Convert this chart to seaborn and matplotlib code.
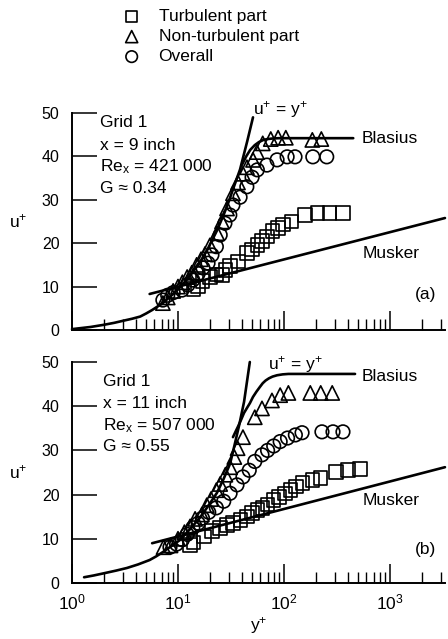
import numpy as np
import pandas as pd
import matplotlib
matplotlib.use("Agg")
import matplotlib.pyplot as plt
import matplotlib.ticker as mticker
import seaborn as sns

# ---------------- data ----------------
parts = ["Turbulent part", "Non-turbulent part", "Overall"]

# panel (a)
a_turb_y = [14, 15.5, 17, 20, 23, 26, 28, 31, 37, 45, 50, 56, 62, 69, 78, 88, 98, 118, 158, 208, 270, 360]
a_turb_u = [9.5, 10, 11.3, 12.2, 12.8, 12.7, 13.8, 14.8, 15.8, 17.7, 18.5, 19.6, 20.5, 21.5, 22.8, 23.5, 24.3, 25, 26.5, 27, 27, 27]
a_non_y = [7.2, 8, 9, 10, 11, 12.2, 13.5, 15, 16.5, 18, 20, 23.4, 26, 29, 33, 36.8, 41, 44.7, 51, 55.6, 63, 75, 88, 104, 185, 225]
a_non_u = [6.2, 7.5, 9, 10, 11, 12.2, 13.2, 15, 16.3, 17.5, 19.5, 22.3, 25, 28, 31.5, 34, 36, 37.5, 39.2, 41, 43, 44, 44.3, 44.3, 43.8, 44]
a_all_y = [7.2, 8, 9, 10.9, 12.4, 13.8, 15.5, 17.2, 19.2, 20.9, 23, 25, 27.7, 30.8, 33, 38.5, 44.6, 50, 56, 69, 86, 107, 127, 187, 253]
a_all_u = [6.9, 8, 8.6, 9.2, 10.4, 11.5, 13, 14.3, 15.4, 17.3, 19.2, 21.9, 24.6, 26.5, 28.8, 30.6, 33, 35.2, 36.9, 38, 39.2, 39.9, 39.9, 39.9, 39.9]

# panel (b)
b_turb_y = [13, 14, 17.5, 21, 25, 29, 33, 39, 45, 50, 56, 63, 70, 80, 90, 102, 115, 130, 150, 185, 220, 310, 400, 520]
b_turb_u = [8.6, 9.2, 10.5, 11.8, 12.5, 13.1, 13.6, 14.2, 15, 15.8, 16.5, 17, 17.8, 18.8, 19.5, 20.3, 21, 21.8, 22.6, 23.3, 23.8, 25.1, 25.6, 25.8]
b_non_y = [7.3, 8.5, 10, 11.5, 13, 14.5, 16.8, 18.7, 20.5, 23, 25, 28, 31, 34, 36.5, 41, 53, 62, 77, 92, 110, 177, 222, 285]
b_non_u = [8.1, 8.5, 10, 11.5, 12.8, 14.5, 15.5, 17.6, 19, 21, 22.4, 24.5, 26.2, 28.5, 30.5, 33, 37.5, 39.5, 41.3, 42.5, 43, 43, 43, 43]
b_all_y = [8.4, 9.7, 11, 12.2, 13.8, 15.5, 17, 19.5, 23, 27, 31, 36, 41, 47, 53, 62, 70, 80, 92, 108, 128, 148, 228, 290, 360]
b_all_u = [8.1, 8.8, 9.8, 11, 12.5, 13.5, 14.7, 16, 17, 18.5, 20.3, 22.2, 24, 25.5, 27.5, 29, 30, 31, 32, 32.8, 33.5, 34, 34.2, 34.2, 34.2]

# reference curves
a_lin_y = [1.0, 1.5, 2, 2.5, 3, 3.7, 4.4, 5.0, 5.7, 6.4, 7.2, 8, 9, 10.5, 12, 14, 16, 19, 23.4, 27, 30, 34, 38.5, 45, 51]
a_lin_u = [0.2, 0.7, 1.2, 1.65, 2.1, 2.6, 3.1, 3.8, 4.6, 5.4, 6.2, 7.2, 8.3, 9.9, 11.5, 13.6, 15.5, 18.6, 23, 26.6, 29.5, 33.3, 37, 43.5, 49]
a_bla_y = [40, 44, 48, 53, 58, 64, 70, 80, 90, 450]
a_bla_u = [38, 40, 41.5, 42.6, 43.3, 43.8, 44, 44.15, 44.2, 44.2]
a_mus_y = [5.4, 3300]
a_mus_u = [8.3, 25.8]

b_lin_y = [1.3, 1.6, 2, 2.6, 3.3, 4.2, 5.4, 6.2, 7.2, 8.6, 10.4, 13, 16, 19.5, 23.3, 27, 31, 34, 38, 42, 47.6]
b_lin_u = [1.3, 1.7, 2.2, 2.8, 3.4, 4.2, 5.2, 6.0, 7, 8.3, 9.7, 12.2, 14.7, 17.6, 20.4, 23.6, 27, 31, 36, 41, 50]
b_bla_y = [33, 35, 37, 39.5, 42, 45, 47.7, 51, 55, 59, 63, 67, 72, 78, 86, 97, 110, 468]
b_bla_u = [33, 34.3, 35.5, 37, 38.5, 39.7, 40.7, 42.1, 43.3, 44.3, 45.2, 45.8, 46.3, 46.7, 47, 47.2, 47.3, 47.3]
b_mus_y = [5.7, 3300]
b_mus_u = [9.0, 26.2]

a_info = ["Grid 1", "x = 9 inch", r"Re$_\mathregular{x}$ = 421 000", "G ≈ 0.34"]
b_info = ["Grid 1", "x = 11 inch", r"Re$_\mathregular{x}$ = 507 000", "G ≈ 0.55"]

# ---------------- style ----------------
sns.set_style("ticks")
plt.rcParams["font.family"] = ["Liberation Sans", "DejaVu Sans"]
plt.rcParams["mathtext.fontset"] = "custom"
plt.rcParams["mathtext.rm"] = "Liberation Sans"
plt.rcParams["mathtext.it"] = "Liberation Sans:italic"
plt.rcParams["mathtext.bf"] = "Liberation Sans:bold"
for k in ["text.color", "axes.labelcolor", "xtick.color", "ytick.color", "axes.edgecolor"]:
    plt.rcParams[k] = "black"

FS = 12.5
markers = {"Turbulent part": "s", "Non-turbulent part": "^", "Overall": "o"}

fig = plt.figure(figsize=(4.48, 6.39), dpi=100)
W = 448.0
H = 639.0
xmax = 3300.0
left = 72 / W
width = np.log10(xmax) * 106 / W
ax_a = fig.add_axes([left, (H - 330) / H, width, 217 / H])
ax_b = fig.add_axes([left, (H - 583) / H, width, 221 / H])


def panel(ax, ty, tu, ny, nu, ay, au, ly, lu, by, bu, my, mu, info, info_x, tag, info_u,
          eq_pos, bla_u, mus_u, show_xlabels):
    frames = []
    for name, yy, uu in [("Turbulent part", ty, tu), ("Non-turbulent part", ny, nu), ("Overall", ay, au)]:
        frames.append(pd.DataFrame({"y+": yy, "u+": uu, "part": name}))
    df = pd.concat(frames, ignore_index=True)

    for df_l in [pd.DataFrame({"y+": ly, "u+": lu}),
                 pd.DataFrame({"y+": by, "u+": bu}),
                 pd.DataFrame({"y+": my, "u+": mu})]:
        sns.lineplot(data=df_l, x="y+", y="u+", ax=ax, color="black", lw=1.9,
                     sort=False, estimator=None, clip_on=False, zorder=2)

    for name in parts:
        sub = df[df["part"] == name]
        sns.scatterplot(data=sub, x="y+", y="u+", ax=ax, marker=markers[name],
                        s=95 if name != "Non-turbulent part" else 105,
                        facecolor="none", edgecolor="black", linewidth=1.2,
                        label=name, zorder=3, clip_on=False)

    ax.set_xscale("log")
    ax.set_xlim(1, xmax)
    ax.set_ylim(0, 50)
    ax.set_yticks([0, 10, 20, 30, 40, 50])
    ax.xaxis.set_major_locator(mticker.LogLocator(base=10, numticks=10))
    ax.xaxis.set_minor_locator(mticker.LogLocator(base=10, subs=np.arange(2, 10), numticks=10))
    ax.tick_params(axis="y", direction="in", length=18, width=1.1, pad=9, labelsize=11.5)
    ax.tick_params(axis="x", which="major", direction="in", length=14, width=1.1, pad=7, labelsize=12.5)
    ax.tick_params(axis="x", which="minor", direction="in", length=8, width=1.0)
    if not show_xlabels:
        ax.tick_params(axis="x", which="both", labelbottom=False)
    for s in ["top", "right"]:
        ax.spines[s].set_visible(False)
    for s in ["left", "bottom"]:
        ax.spines[s].set_linewidth(1.4)
    ax.set_xlabel("")
    ax.set_ylabel(r"u$^\mathregular{+}$", rotation=0, fontsize=12.5, va="center", ha="center")
    ax.yaxis.set_label_coords(-0.145, 0.5)

    for i, t in enumerate(info):
        ax.text(info_x, info_u[i], t, fontsize=FS, ha="left", va="center")
    ax.text(eq_pos[0], eq_pos[1], r"u$^\mathregular{+}$ = y$^\mathregular{+}$", fontsize=FS, ha="center", va="center")
    ax.text(545, bla_u, "Blasius", fontsize=FS, ha="left", va="center")
    ax.text(550, mus_u, "Musker", fontsize=FS, ha="left", va="center")
    ax.text(2150, tag[1], tag[0], fontsize=FS, ha="center", va="center")
    leg = ax.get_legend()
    if leg is not None:
        leg.remove()


panel(ax_a, a_turb_y, a_turb_u, a_non_y, a_non_u, a_all_y, a_all_u,
      a_lin_y, a_lin_u, a_bla_y, a_bla_u, a_mus_y, a_mus_u, a_info, 1.85, ("(a)", 8.1),
      [47.9, 42.6, 37.6, 32.7], (93, 50.8), 44.2, 17.7, False)
panel(ax_b, b_turb_y, b_turb_u, b_non_y, b_non_u, b_all_y, b_all_u,
      b_lin_y, b_lin_u, b_bla_y, b_bla_u, b_mus_y, b_mus_u, b_info, 1.95, ("(b)", 7.5),
      [45.7, 40.7, 35.7, 30.8], (127, 49.5), 46.8, 18.6, True)

ax_b.set_xlabel(r"y$^\mathregular{+}$", fontsize=12.5, labelpad=2)

handles, labels = ax_a.get_legend_handles_labels()
handles = handles[-3:]
labels = labels[-3:]
fig.legend(handles, labels, loc="upper left", bbox_to_anchor=(123 / W, 1 - 9 / H),
           frameon=False, fontsize=FS, handlelength=1.0, handletextpad=1.05,
           labelspacing=0.28, borderpad=0, borderaxespad=0, markerscale=0.85)

fig.savefig("out.png", dpi=100)
